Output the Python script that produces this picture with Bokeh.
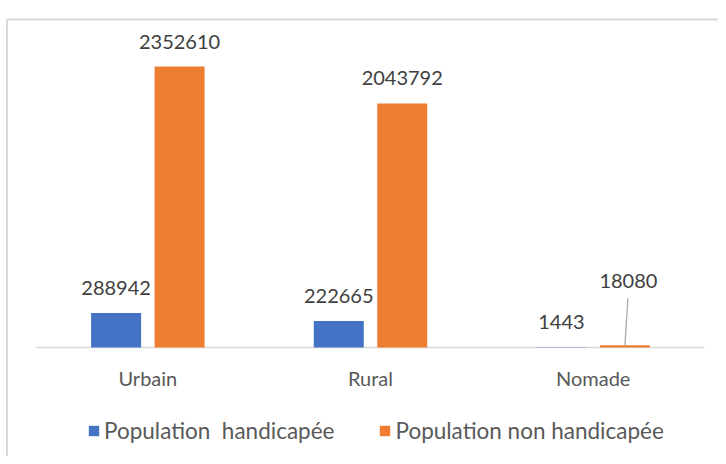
from bokeh.plotting import figure
from bokeh.models import ColumnDataSource, Range1d, LabelSet, Legend, LegendItem
from bokeh.embed import file_html
from bokeh.resources import INLINE
from bokeh.core.properties import value

# ---- data ----
categories = ["Urbain", "Rural", "Nomade"]
handicapee = [288942, 222665, 1443]
non_handicapee = [2352610, 2043792, 18080]
series_names = ["Population  handicapée", "Population non handicapée"]

# ---- style / layout constants ----
BLUE = "#4472C4"
ORANGE = "#ED7D31"
GRID = "#D9D9D9"
FONT = "Lato"
W, H = 718, 456
X0_PX, X1_PX = 36, 704      # extent of the category axis inside the canvas
BASE_PX = 347               # baseline (value 0) from canvas top
MAX_BAR_PX = 281            # pixel height of the tallest bar
n = len(categories)
unit = (X1_PX - X0_PX) / n
upp = max(non_handicapee) / MAX_BAR_PX   # value units per pixel

x_start = -X0_PX / unit
x_end = n + (W - X1_PX) / unit
y_end = BASE_PX * upp
y_start = -(H - BASE_PX) * upp

p = figure(width=W, height=H, x_range=Range1d(x_start, x_end),
           y_range=Range1d(y_start, y_end), x_axis_type=None, y_axis_type=None,
           output_backend="svg", toolbar_location=None, min_border=0,
           outline_line_color=None, background_fill_color="white",
           border_fill_color="white")

off, bw = 0.1425, 0.2245
centers = [i + 0.5 for i in range(n)]
xb = [c - off for c in centers]
xo = [c + off for c in centers]

src = ColumnDataSource(dict(cat=categories, xc=centers, xb=xb, xo=xo,
                            h=handicapee, nh=non_handicapee,
                            h_txt=[str(v) for v in handicapee],
                            nh_txt=[str(v) for v in non_handicapee],
                            nh_xoff=[0, 0, 3.5], nh_yoff=[18, 18, 57]))

# chart border (top + left)
bx = x_start + 6.5 / unit
by = (BASE_PX - 19) * upp
p.segment(x0=[bx, bx], y0=[by, by], x1=[x_end, bx], y1=[by, y_start],
          line_color=GRID, line_width=2)

# baseline
p.segment(x0=[0], y0=[0], x1=[n], y1=[0], line_color=GRID, line_width=1.5)

r1 = p.vbar(x="xb", top="h", bottom=0, width=bw, fill_color=BLUE,
            line_color=None, source=src)
r2 = p.vbar(x="xo", top="nh", bottom=0, width=bw, fill_color=ORANGE,
            line_color=None, source=src)

# leader line for the small Nomade value
k = n - 1
p.segment(x0=[xo[k]], y0=[non_handicapee[k]], x1=[xo[k] + 3 / unit],
          y1=[non_handicapee[k] + 47 * upp], line_color="#A6A6A6", line_width=1.2)

lab1 = LabelSet(x="xb", y="h", text="h_txt", source=src, y_offset=18,
                text_align="center", text_baseline="alphabetic",
                text_font=value(FONT), text_font_size="20px", text_color="#404040")
lab2 = LabelSet(x="xo", y="nh", text="nh_txt", source=src, x_offset="nh_xoff",
                y_offset="nh_yoff", text_align="center", text_baseline="alphabetic",
                text_font=value(FONT), text_font_size="20px", text_color="#404040")
p.add_layout(lab1)
p.add_layout(lab2)

# category labels
p.text(x="xc", y=-30 * upp, text="cat", source=src, text_align="center",
       text_baseline="middle", text_font=value(FONT), text_font_size="20px",
       text_color="#595959")

legend = Legend(items=[LegendItem(label=series_names[0], renderers=[r1]),
                       LegendItem(label=series_names[1], renderers=[r2])],
                orientation="horizontal", location=(87, 12), glyph_width=13,
                glyph_height=13, label_standoff=4, spacing=44, padding=0, margin=0,
                border_line_color=None, background_fill_alpha=0,
                label_text_font=FONT, label_text_font_size="22.5px",
                label_text_color="#595959")
p.add_layout(legend)

open("out.html", "w").write(file_html(p, INLINE))
